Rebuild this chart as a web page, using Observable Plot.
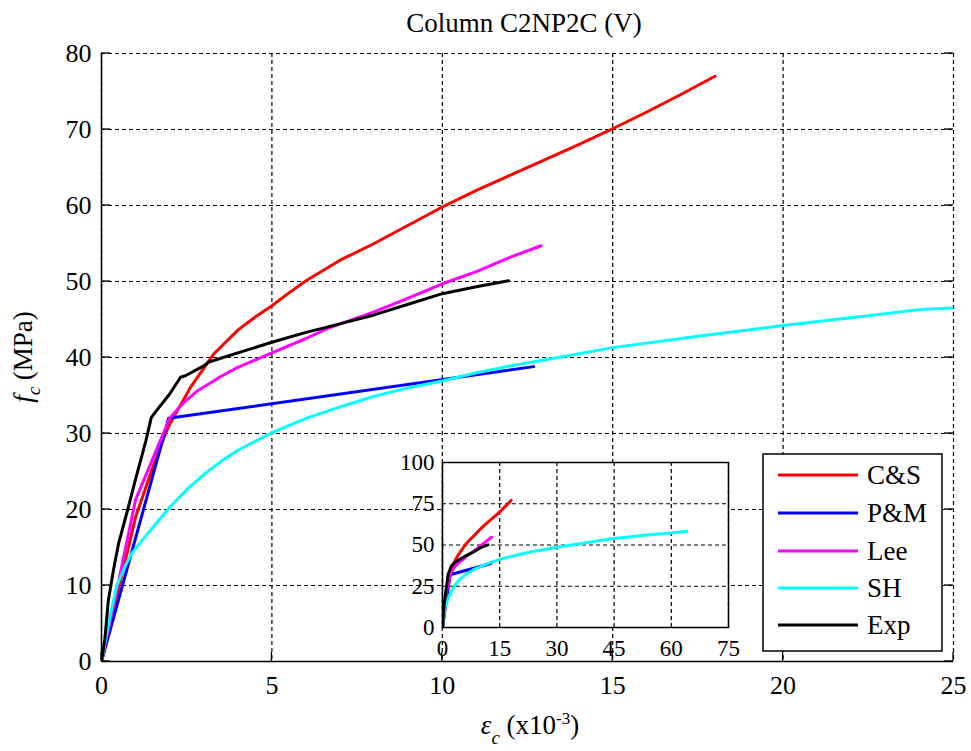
<!DOCTYPE html>
<html>
<head>
<meta charset="utf-8">
<script src="https://cdn.jsdelivr.net/npm/d3@7"></script>
<script src="https://cdn.jsdelivr.net/npm/@observablehq/plot@0.6"></script>
<style>
  html, body { margin: 0; padding: 0; background: white; }
  #wrap { position: relative; width: 971px; height: 751px; }
  #inset { position: absolute; left: 395px; top: 450px; }
</style>
</head>
<body>
<div id="wrap"><div id="main"></div><div id="inset"></div></div>
<script>
// ---- Data (strain x10^-3, stress MPa) ----
const seriesNames = ["C&S", "P&M", "Lee", "SH", "Exp"];
const seriesColors = ["#ff0000", "#0000ff", "#ff00ff", "#00ffff", "#000000"];

const csX = [0, 0.5, 1, 1.5, 1.88, 2, 2.6, 3.3, 4, 4.5, 5, 5.5, 6, 7, 8, 9, 10, 11, 12, 13, 14, 15, 16, 17, 18];
const csY = [0, 9.5, 19, 25.5, 30, 31.2, 36, 40.5, 43.6, 45.3, 46.8, 48.5, 50.1, 52.8, 55, 57.4, 59.8, 62, 64, 66, 68, 70.1, 72.3, 74.6, 77];

const pmX = [0, 1.97, 12.68];
const pmY = [0, 32, 38.8];

const leeX = [0, 0.5, 1, 2, 2.4, 2.81, 3.5, 4, 5, 6, 6.62, 8, 9, 10, 11, 12, 12.9];
const leeY = [0, 10.5, 21.3, 32, 34, 35.6, 37.5, 38.7, 40.6, 42.5, 43.8, 46, 47.8, 49.7, 51.3, 53.2, 54.7];

const shX = [0, 0.25, 0.45, 0.7, 0.9, 1.2, 1.5, 2, 2.5, 3, 3.5, 4, 5, 6, 7, 8, 9, 10, 11, 12, 12.9, 15, 17.5, 20, 22.5, 24, 25, 30, 35, 40, 45, 50, 55, 60, 64];
const shY = [0, 6, 10, 12.6, 14.3, 16, 17.6, 20.3, 22.6, 24.6, 26.3, 27.8, 30.1, 32, 33.5, 34.9, 36, 36.9, 38, 38.9, 39.6, 41.3, 42.8, 44.2, 45.5, 46.3, 46.5, 48.6, 50.5, 52.3, 54, 55.2, 56.3, 57.3, 58.3];

const expX = [0, 0.1, 0.2, 0.35, 0.5, 0.77, 1.0, 1.3, 1.46, 1.7, 2, 2.32, 2.46, 3, 3.15, 3.5, 4, 5, 6, 6.62, 8, 9, 10, 11, 11.94];
const expY = [0, 3, 8, 12, 15.5, 20, 24, 29, 32.1, 33.5, 35.2, 37.4, 37.6, 38.9, 39.4, 39.9, 40.6, 42, 43.3, 44, 45.6, 47, 48.4, 49.3, 50.1];

const mainXTicks = [0, 5, 10, 15, 20, 25];
const mainYTicks = [0, 10, 20, 30, 40, 50, 60, 70, 80];
const insetXTicks = [0, 15, 30, 45, 60, 75];
const insetYTicks = [0, 25, 50, 75, 100];

const titleText = "Column C2NP2C (V)";

// ---- Build table ----
const allX = [csX, pmX, leeX, shX, expX];
const allY = [csY, pmY, leeY, shY, expY];
const rows = [];
seriesNames.forEach((s, k) => {
  allX[k].forEach((x, i) => rows.push({s, x, y: allY[k][i]}));
});

const font = '"Liberation Serif", "Times New Roman", serif';
const dash = "4,3";

// ---- Main chart ----
const main = Plot.plot({
  width: 971, height: 751,
  marginLeft: 101, marginRight: 18, marginTop: 53, marginBottom: 90,
  style: {fontFamily: font, fontSize: "26px", color: "black", background: "white"},
  x: {domain: [0, 25]},
  y: {domain: [0, 80]},
  color: {domain: seriesNames, range: seriesColors},
  marks: [
    Plot.gridX(mainXTicks, {stroke: "black", strokeOpacity: 1, strokeDasharray: dash, strokeWidth: 1.2}),
    Plot.gridY(mainYTicks, {stroke: "black", strokeOpacity: 1, strokeDasharray: dash, strokeWidth: 1.2}),
    Plot.line(rows, {x: "x", y: "y", z: "s", stroke: "s", strokeWidth: 3, clip: true}),
    Plot.axisX(mainXTicks, {tickSize: 0, tickPadding: 14, label: null}),
    Plot.axisY(mainYTicks, {tickSize: 0, tickPadding: 10, label: null}),
    Plot.ruleX([0], {stroke: "black", strokeWidth: 1.5}),
    Plot.ruleY([0], {stroke: "black", strokeWidth: 1.5})
  ]
});
document.getElementById("main").appendChild(main);

const svg = d3.select(main);
const sx = main.scale("x"), sy = main.scale("y");
const TL = 9;
// inward ticks, placed with Plot's own scales
const tk = svg.append("g").attr("stroke", "black").attr("stroke-width", 1.3);
const x0 = sx.apply(sx.domain[0]), x1 = sx.apply(sx.domain[1]), y0 = sy.apply(sy.domain[0]);
mainXTicks.forEach(t => {
  const px = sx.apply(t);
  tk.append("line").attr("x1", px).attr("x2", px).attr("y1", y0).attr("y2", y0 - TL);
});
mainYTicks.forEach(t => {
  const py = sy.apply(t);
  tk.append("line").attr("x1", x0).attr("x2", x0 + TL).attr("y1", py).attr("y2", py);
  tk.append("line").attr("x1", x1).attr("x2", x1 - TL).attr("y1", py).attr("y2", py);
});

// Title
svg.append("text")
  .attr("x", 524).attr("y", 32)
  .attr("text-anchor", "middle")
  .attr("font-family", font).attr("font-size", 27)
  .attr("fill", "black")
  .text(titleText);

// X label: εc (x10^-3)
const xl = svg.append("text")
  .attr("x", 530).attr("y", 734)
  .attr("text-anchor", "middle")
  .attr("font-family", font).attr("font-size", 27).attr("fill", "black");
xl.append("tspan").attr("font-style", "italic").text("ε");
xl.append("tspan").attr("font-style", "italic").attr("font-size", 19).attr("dy", 10).text("c");
xl.append("tspan").attr("dy", -10).text(" (x10");
xl.append("tspan").attr("font-size", 17).attr("dy", -10).text("-3");
xl.append("tspan").attr("dy", 10).text(")");

// Y label: fc (MPa)
const yl = svg.append("text")
  .attr("transform", "translate(32,357) rotate(-90)")
  .attr("text-anchor", "middle")
  .attr("font-family", font).attr("font-size", 27).attr("fill", "black");
yl.append("tspan").attr("font-style", "italic").text("f");
yl.append("tspan").attr("font-style", "italic").attr("font-size", 19).attr("dy", 8).text("c");
yl.append("tspan").attr("dy", -8).text(" (MPa)");

// Legend
const lg = svg.append("g").attr("text-anchor", "start");
lg.append("rect").attr("x", 763).attr("y", 454).attr("width", 179).attr("height", 197)
  .attr("fill", "white").attr("stroke", "black").attr("stroke-width", 1.5);
const rowY = [475, 513, 551, 588, 625];
seriesNames.forEach((s, i) => {
  lg.append("line").attr("x1", 778).attr("x2", 858).attr("y1", rowY[i]).attr("y2", rowY[i])
    .attr("stroke", seriesColors[i]).attr("stroke-width", 3);
  lg.append("text").attr("x", 867).attr("y", rowY[i] + 9)
    .attr("text-anchor", "start")
    .attr("font-family", font).attr("font-size", 27).attr("fill", "black").text(s);
});

// ---- Inset chart ----
const inset = Plot.plot({
  width: 345, height: 225,
  marginLeft: 47, marginRight: 12, marginTop: 12, marginBottom: 48,
  style: {fontFamily: font, fontSize: "23px", color: "black", background: "transparent", overflow: "visible"},
  x: {domain: [0, 75]},
  y: {domain: [0, 100]},
  color: {domain: seriesNames, range: seriesColors},
  marks: [
    Plot.frame({fill: "white", stroke: null}),
    Plot.gridX(insetXTicks, {stroke: "black", strokeOpacity: 1, strokeDasharray: dash, strokeWidth: 1.2}),
    Plot.gridY(insetYTicks, {stroke: "black", strokeOpacity: 1, strokeDasharray: dash, strokeWidth: 1.2}),
    Plot.line(rows, {x: "x", y: "y", z: "s", stroke: "s", strokeWidth: 3, clip: true}),
    Plot.axisX(insetXTicks, {tickSize: 0, tickPadding: 12, label: null}),
    Plot.axisY(insetYTicks, {tickSize: 0, tickPadding: 8, label: null}),
    Plot.frame({stroke: "black", strokeWidth: 1.5})
  ]
});
document.getElementById("inset").appendChild(inset);
</script>
</body>
</html>
